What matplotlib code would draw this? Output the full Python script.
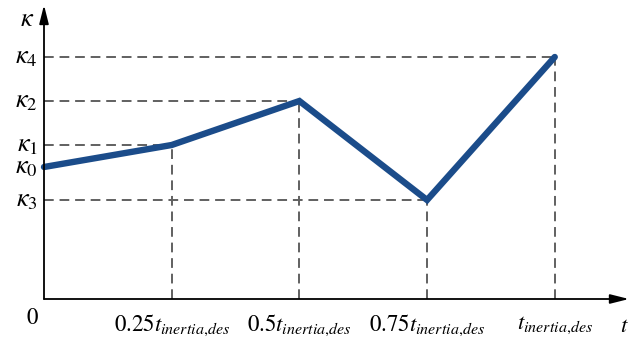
import matplotlib.pyplot as plt

plt.rcParams['mathtext.fontset'] = 'stix'
plt.rcParams['font.family'] = 'STIXGeneral'

# breakpoints of the kappa profile (fraction of t_inertia,des)
t_vals = [0.0, 0.25, 0.5, 0.75, 1.0]
kappa = [1.32, 1.54, 1.98, 0.99, 2.42]
k_names = [r'$\kappa_0$', r'$\kappa_1$', r'$\kappa_2$', r'$\kappa_3$', r'$\kappa_4$']
t_names = [r'$0.25t_{inertia{,}des}$', r'$0.5t_{inertia{,}des}$',
           r'$0.75t_{inertia{,}des}$', r'$t_{inertia{,}des}$']

fig = plt.figure(figsize=(6.29, 3.43), dpi=100)
ax = fig.add_axes([44 / 629, 44 / 343, 585 / 629, 294 / 343])
xmax = (627 - 44) / 509
ymax = 2.94
ax.set_xlim(0, xmax)
ax.set_ylim(0, ymax)
ax.axis('off')

# guide lines
for t, k in zip(t_vals[1:], kappa[1:]):
    ax.plot([0, t], [k, k], color='#606060', lw=1.4, ls=(0, (5, 3)))
    ax.plot([t, t], [0, k], color='#606060', lw=1.4, ls=(0, (5, 3)))

# axes with arrows
arrow = dict(arrowstyle='-|>,head_length=0.8,head_width=0.2', color='black',
             lw=1.3, mutation_scale=14, shrinkA=0, shrinkB=0)
ax.annotate('', xy=(xmax, 0), xytext=(0, 0), arrowprops=arrow)
ax.annotate('', xy=(0, ymax), xytext=(0, 0), arrowprops=arrow)

ax.plot(t_vals, kappa, color='#1b4c8a', lw=4.6, solid_capstyle='round',
        solid_joinstyle='miter', clip_on=False)

for k, name in zip(kappa, k_names):
    ax.text(-0.012, k, name, ha='right', va='center', fontsize=19)
ax.text(-0.02, 2.79, r'$\kappa$', ha='right', va='center', fontsize=19)

for t, name in zip(t_vals[1:], t_names):
    ax.text(t, -0.26, name, ha='center', va='center', fontsize=16.5)
ax.text(-0.012, -0.19, '0', ha='right', va='center', fontsize=16.5)
ax.text(xmax - 0.01, -0.27, r'$t$', ha='center', va='center', fontsize=16.5)

fig.savefig('out.png', dpi=100)
